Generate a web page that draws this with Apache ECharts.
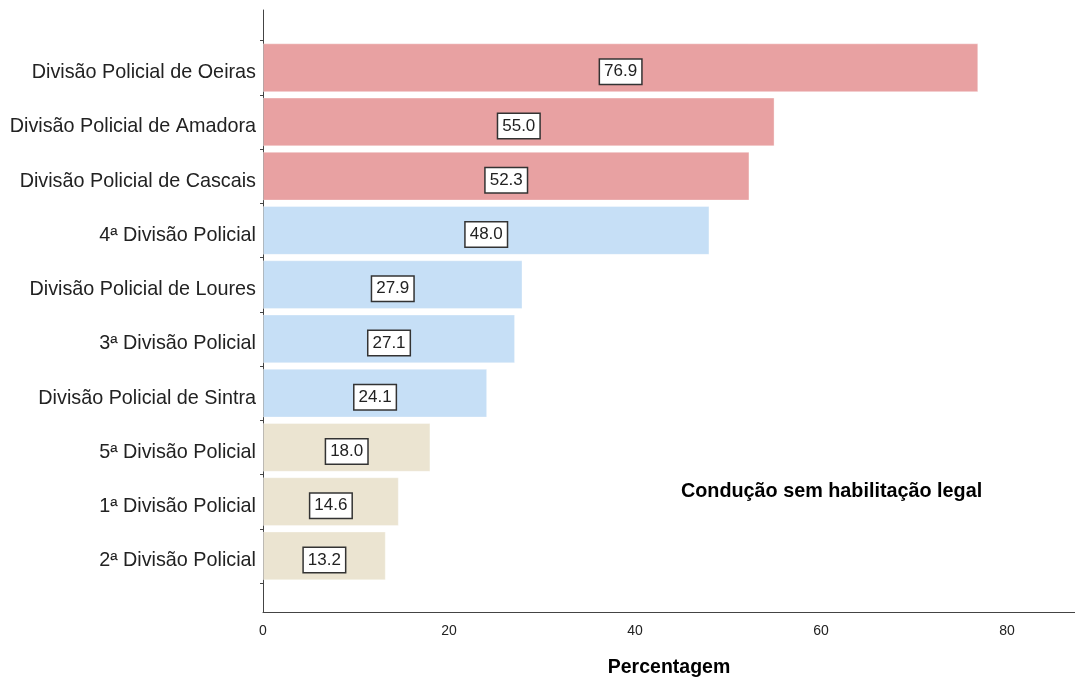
<!DOCTYPE html>
<html>
<head>
<meta charset="utf-8">
<script src="https://cdn.jsdelivr.net/npm/echarts@6/dist/echarts.min.js"></script>
<style>
html,body{margin:0;padding:0;background:#fff;}
#chart{width:1075px;height:677px;}
</style>
</head>
<body>
<div id="chart"></div>
<script>
const categories = [
  'Divisão Policial de Oeiras',
  'Divisão Policial de Amadora',
  'Divisão Policial de Cascais',
  '4ª Divisão Policial',
  'Divisão Policial de Loures',
  '3ª Divisão Policial',
  'Divisão Policial de Sintra',
  '5ª Divisão Policial',
  '1ª Divisão Policial',
  '2ª Divisão Policial'
];
const values = [76.9, 55.0, 52.3, 48.0, 27.9, 27.1, 24.1, 18.0, 14.6, 13.2];
const groups = [0, 0, 0, 1, 1, 1, 1, 2, 2, 2];
const xTicks = [0, 20, 40, 60, 80];
const chartTitle = 'Condução sem habilitação legal';
const xName = 'Percentagem';

const palette = ['#E8A1A2', '#C6DFF6', '#EBE4D1'];
const FONT = 'Liberation Sans, Arial, sans-serif';
const XMAX = 87.3;

const chart = echarts.init(document.getElementById('chart'), null, {renderer: 'canvas'});
chart.setOption({
  animation: false,
  backgroundColor: '#fff',
  textStyle: {fontFamily: FONT},
  title: {
    text: chartTitle,
    left: 681, top: 482, padding: 0,
    textStyle: {fontFamily: FONT, fontSize: 19.8, fontWeight: 'bold', color: '#000'}
  },
  grid: [
    {left: 263, right: 0, top: 10, bottom: 65, containLabel: false, outerBoundsMode: 'none'},
    {left: 263, right: 0, top: 40.6, bottom: 94, containLabel: false, outerBoundsMode: 'none'}
  ],
  xAxis: [
    {
      gridIndex: 0, type: 'value', min: 0, max: XMAX, interval: 20,
      axisLine: {show: true, lineStyle: {color: '#444', width: 1}},
      axisTick: {show: false},
      splitLine: {show: false},
      axisLabel: {
        fontFamily: FONT, fontSize: 14, color: '#222', margin: 12,
        showMaxLabel: false,
        formatter: v => (xTicks.indexOf(v) >= 0 ? String(v) : '')
      },
      name: xName, nameLocation: 'middle', nameGap: 46,
      nameTextStyle: {fontFamily: FONT, fontSize: 19.5, fontWeight: 'bold', color: '#000'}
    },
    {
      gridIndex: 1, type: 'value', min: 0, max: XMAX, show: false
    }
  ],
  yAxis: [
    {
      gridIndex: 0, type: 'value', min: 0, max: 1,
      axisLine: {show: true, lineStyle: {color: '#444', width: 1}},
      axisTick: {show: false}, axisLabel: {show: false}, splitLine: {show: false}
    },
    {
      gridIndex: 1, type: 'category', data: categories, inverse: true,
      axisLine: {show: false},
      axisTick: {show: true, length: 3, lineStyle: {color: '#444'}},
      axisLabel: {
        fontFamily: FONT, fontSize: 19.8, color: '#222', margin: 7,
        formatter: v => '{c|' + v + '}',
        rich: {c: {fontFamily: FONT, fontSize: 19.8, color: '#222', padding: [10, 0, 0, 0]}}
      },
      splitLine: {show: false}
    }
  ],
  series: [{
    type: 'bar',
    xAxisIndex: 1, yAxisIndex: 1,
    barCategoryGap: '10%',
    data: values.map((v, i) => ({
      value: v,
      itemStyle: {color: palette[groups[i]], borderColor: 'rgba(255,255,255,0.35)', borderWidth: 1}
    })),
    label: {
      show: true, position: 'inside',
      formatter: p => p.value.toFixed(1),
      fontFamily: FONT, fontSize: 17, color: '#222',
      backgroundColor: '#fff', borderColor: '#333', borderWidth: 1.5,
      padding: [4, 4, 3, 4], offset: [0, 4]
    }
  }]
});
</script>
</body>
</html>
